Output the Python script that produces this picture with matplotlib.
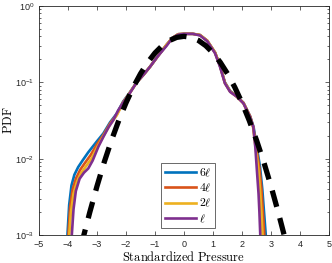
import matplotlib
matplotlib.use("Agg")
from matplotlib import pyplot as plt
from matplotlib.ticker import LogLocator, NullFormatter, FixedLocator

plt.rcParams['mathtext.fontset'] = 'cm'
plt.rcParams['font.family'] = ['Liberation Sans', 'DejaVu Sans']

# 6l
x_6l = [-4.02, -3.96, -3.88, -3.78, -3.65, -3.5, -3.3, -3.0, -2.78, -2.55, -2.32, -2.1,
        -1.9, -1.63, -1.4, -1.17, -0.9, -0.6, -0.4, -0.2, 0.0, 0.3, 0.55, 0.8, 1.07,
        1.24, 1.41, 1.59, 1.82, 2.05, 2.28, 2.4, 2.5, 2.62, 2.7, 2.76, 2.82]
y_6l = [0.001, 0.0025, 0.0045, 0.0062, 0.0078, 0.0095, 0.0122, 0.017, 0.0215, 0.03, 0.039, 0.056,
        0.071, 0.10, 0.125, 0.16, 0.22, 0.31, 0.38, 0.425, 0.43, 0.43, 0.415, 0.35, 0.245,
        0.165, 0.10, 0.077, 0.066, 0.054, 0.036, 0.026, 0.015, 0.0079, 0.004, 0.002, 0.001]

# 4l
x_4l = [-3.99, -3.93, -3.84, -3.72, -3.58, -3.42, -3.22, -3.0, -2.78, -2.55, -2.32, -2.1,
        -1.9, -1.63, -1.4, -1.17, -0.9, -0.6, -0.4, -0.2, 0.0, 0.3, 0.55, 0.8, 1.07,
        1.24, 1.41, 1.59, 1.82, 2.05, 2.28, 2.39, 2.48, 2.6, 2.67, 2.72, 2.77]
y_4l = [0.001, 0.0023, 0.004, 0.0056, 0.0072, 0.0088, 0.0112, 0.0155, 0.0205, 0.029, 0.038, 0.055,
        0.070, 0.10, 0.125, 0.16, 0.22, 0.31, 0.38, 0.425, 0.43, 0.43, 0.415, 0.35, 0.245,
        0.165, 0.099, 0.076, 0.065, 0.054, 0.036, 0.026, 0.015, 0.0075, 0.004, 0.002, 0.001]

# 2l
x_2l = [-3.96, -3.9, -3.81, -3.69, -3.55, -3.38, -3.18, -2.98, -2.78, -2.55, -2.32, -2.1,
        -1.9, -1.63, -1.4, -1.17, -0.9, -0.6, -0.4, -0.2, 0.0, 0.3, 0.55, 0.8, 1.07,
        1.24, 1.41, 1.59, 1.82, 2.05, 2.28, 2.38, 2.46, 2.56, 2.62, 2.67, 2.71]
y_2l = [0.001, 0.002, 0.0035, 0.005, 0.0065, 0.008, 0.0102, 0.0145, 0.0198, 0.028, 0.037, 0.054,
        0.070, 0.10, 0.125, 0.16, 0.22, 0.31, 0.38, 0.425, 0.43, 0.43, 0.415, 0.35, 0.245,
        0.165, 0.098, 0.076, 0.065, 0.053, 0.035, 0.026, 0.015, 0.0075, 0.004, 0.002, 0.001]

# l
x_1l = [-3.87, -3.81, -3.73, -3.6, -3.45, -3.3, -3.15, -2.95, -2.78, -2.6, -2.44, -2.27, -2.1,
        -1.9, -1.63, -1.4, -1.17, -0.9, -0.6, -0.4, -0.2, 0.0, 0.3, 0.55, 0.8, 1.07,
        1.24, 1.41, 1.59, 1.82, 2.05, 2.28, 2.39, 2.46, 2.52, 2.57, 2.6, 2.63]
y_1l = [0.001, 0.0022, 0.0038, 0.0055, 0.0066, 0.0075, 0.0095, 0.0145, 0.0194, 0.026, 0.032, 0.043, 0.054,
        0.069, 0.10, 0.125, 0.16, 0.22, 0.30, 0.38, 0.42, 0.43, 0.43, 0.41, 0.345, 0.24,
        0.16, 0.097, 0.075, 0.065, 0.053, 0.035, 0.026, 0.014, 0.0065, 0.0035, 0.002, 0.001]

# standard normal reference
x_ref = [-3.55, -3.25, -3.0, -2.75, -2.5, -2.25, -2.0, -1.75, -1.5, -1.25, -1.0, -0.75, -0.5,
         -0.25, 0.0, 0.25, 0.5, 0.75, 1.0, 1.25, 1.5, 1.75, 2.0, 2.25, 2.5, 2.75, 3.0, 3.25, 3.55]
y_ref = [0.00073, 0.0020, 0.0044, 0.0091, 0.0175, 0.0317, 0.054, 0.0863, 0.1295, 0.1826, 0.242,
         0.3011, 0.3521, 0.3867, 0.3989, 0.3867, 0.3521, 0.3011, 0.242, 0.1826, 0.1295, 0.0863,
         0.054, 0.0317, 0.0175, 0.0091, 0.0044, 0.0020, 0.00073]

fig = plt.figure(figsize=(3.32, 2.63), dpi=100)
ax = fig.add_axes([0.1175, 0.105, 0.8735, 0.873])

lw = 1.9
ax.plot(x_6l, y_6l, color='#0072BD', lw=lw, label=r'$6\ell$')
ax.plot(x_4l, y_4l, color='#D95319', lw=lw, label=r'$4\ell$')
ax.plot(x_2l, y_2l, color='#EDB120', lw=lw, label=r'$2\ell$')
ax.plot(x_1l, y_1l, color='#7E2F8E', lw=lw, label=r'$\ell$')
ax.plot(x_ref, y_ref, color='black', lw=3.8, dashes=(3.2, 2.2))

ax.set_yscale('log')
ax.set_xlim(-5, 5)
ax.set_ylim(1e-3, 1)
ax.xaxis.set_major_locator(FixedLocator(range(-5, 6)))
ax.yaxis.set_major_locator(LogLocator(base=10, numticks=10))
ax.yaxis.set_minor_locator(LogLocator(base=10, subs=range(2, 10), numticks=10))
ax.yaxis.set_minor_formatter(NullFormatter())

gray = '#262626'
for s in ax.spines.values():
    s.set_color(gray)
    s.set_linewidth(0.6)
ax.tick_params(which='both', direction='in', top=True, right=True, colors=gray,
               labelsize=6.5, width=0.5)
ax.tick_params(which='major', length=3)
ax.tick_params(which='minor', length=1.7)

ax.set_xlabel(r'$\mathrm{Standardized\ Pressure}$', fontsize=9, labelpad=0.5)
ax.set_ylabel(r'$\mathrm{PDF}$', fontsize=9, labelpad=0)

leg = ax.legend(loc='lower left', bbox_to_anchor=(0.422, 0.03), fontsize=8.5,
                frameon=True, fancybox=False, handlelength=2.6, handletextpad=0.25,
                borderpad=0.3, labelspacing=0.25, borderaxespad=0)
leg.get_frame().set_edgecolor(gray)
leg.get_frame().set_linewidth(0.6)

fig.savefig('out.png', dpi=100)
